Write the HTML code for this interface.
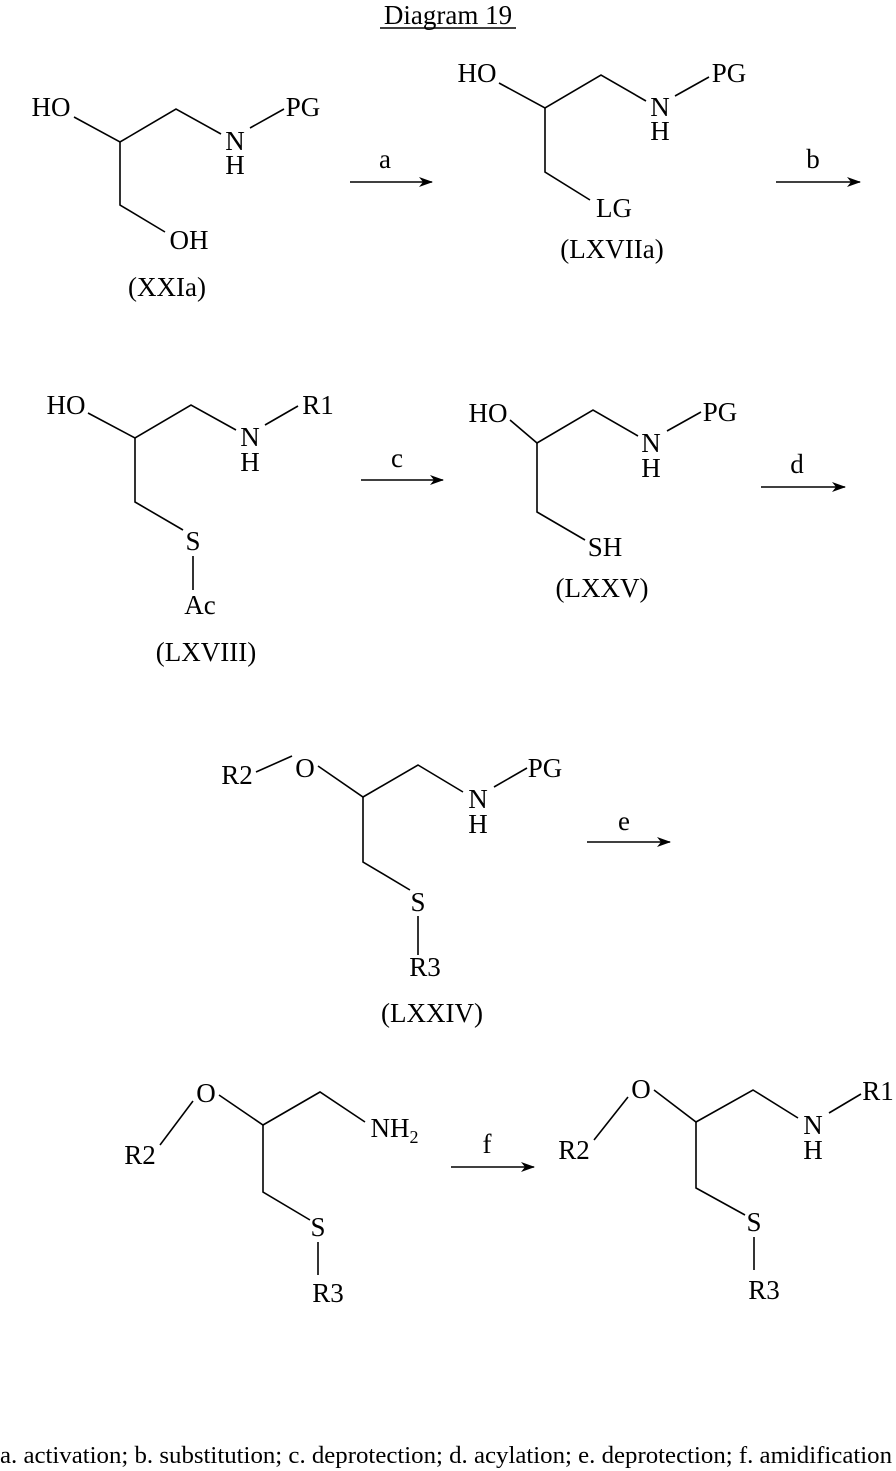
<!DOCTYPE html>
<html><head><meta charset="utf-8"><style>
html,body{margin:0;padding:0;background:#fff}
svg{display:block}
text{font-family:"Liberation Serif",serif;font-size:27px;fill:#000;text-anchor:middle}
line,polyline{stroke:#000;stroke-width:1.6;fill:none}
</style></head><body>
<svg width="896" height="1471" viewBox="0 0 896 1471">
<defs><marker id="ah" markerWidth="14" markerHeight="10" refX="13" refY="5" orient="auto" markerUnits="userSpaceOnUse"><path d="M0,0 L14,5 L0,10 L4,5 Z" fill="#000"/></marker></defs>
<text x="448" y="24">Diagram 19</text>
<line x1="380" y1="28" x2="516" y2="28"/>

<!-- XXIa -->
<text x="51" y="116">HO</text>
<polyline points="74,117 120,142 176,109 221,134"/>
<text x="235" y="150">N</text><text x="235" y="174">H</text>
<line x1="250" y1="128" x2="284" y2="109"/>
<text x="303" y="116">PG</text>
<polyline points="120,142 120,205 165,232"/>
<text x="189" y="249">OH</text>
<text x="167" y="296">(XXIa)</text>

<line x1="350" y1="182" x2="432" y2="182" marker-end="url(#ah)"/>
<text x="385" y="168">a</text>

<!-- LXVIIa -->
<text x="477" y="82">HO</text>
<polyline points="499,83 545,108 601,75 646,101"/>
<text x="660" y="116">N</text><text x="660" y="140">H</text>
<line x1="675" y1="96" x2="709" y2="77"/>
<text x="729" y="82">PG</text>
<polyline points="545,108 545,172 590,200"/>
<text x="614" y="217">LG</text>
<text x="612" y="258">(LXVIIa)</text>

<line x1="776" y1="182" x2="860" y2="182" marker-end="url(#ah)"/>
<text x="813" y="168">b</text>

<!-- LXVIII -->
<text x="66" y="414">HO</text>
<polyline points="88,413 135,438 191,405 236,430"/>
<text x="250" y="446">N</text><text x="250" y="471">H</text>
<line x1="265" y1="425" x2="298" y2="406"/>
<text x="318" y="414">R1</text>
<polyline points="135,438 135,502 183,530"/>
<text x="193" y="550">S</text>
<line x1="193" y1="556" x2="193" y2="590"/>
<text x="200" y="614">Ac</text>
<text x="206" y="661">(LXVIII)</text>

<line x1="361" y1="480" x2="443" y2="480" marker-end="url(#ah)"/>
<text x="397" y="467">c</text>

<!-- LXXV -->
<text x="488" y="422">HO</text>
<polyline points="510,420 537,443 593,410 638,436"/>
<text x="651" y="452">N</text><text x="651" y="477">H</text>
<line x1="667" y1="431" x2="701" y2="412"/>
<text x="720" y="421">PG</text>
<polyline points="537,443 537,512 585,540"/>
<text x="605" y="556">SH</text>
<text x="602" y="597">(LXXV)</text>

<line x1="761" y1="487" x2="845" y2="487" marker-end="url(#ah)"/>
<text x="797" y="473">d</text>

<!-- LXXIV -->
<text x="237" y="784">R2</text>
<line x1="256" y1="772" x2="292" y2="756"/>
<text x="305" y="777">O</text>
<polyline points="318,766 363,797 418,765 463,792"/>
<text x="478" y="808">N</text><text x="478" y="833">H</text>
<line x1="494" y1="787" x2="527" y2="768"/>
<text x="545" y="777">PG</text>
<polyline points="363,797 363,862 410,890"/>
<text x="418" y="911">S</text>
<line x1="418" y1="916" x2="418" y2="955"/>
<text x="425" y="976">R3</text>
<text x="432" y="1022">(LXXIV)</text>

<line x1="587" y1="842" x2="670" y2="842" marker-end="url(#ah)"/>
<text x="624" y="830">e</text>

<!-- amine -->
<text x="140" y="1164">R2</text>
<line x1="160" y1="1145" x2="193" y2="1101"/>
<text x="206" y="1102">O</text>
<polyline points="219,1095 263,1125 320,1092 365,1122"/>
<text x="390" y="1137">NH</text><text x="414" y="1143" style="font-size:18px">2</text>
<polyline points="263,1125 263,1192 310,1220"/>
<text x="318" y="1236">S</text>
<line x1="318" y1="1242" x2="318" y2="1275"/>
<text x="328" y="1302">R3</text>

<line x1="451" y1="1167" x2="534" y2="1167" marker-end="url(#ah)"/>
<text x="487" y="1153">f</text>

<!-- product -->
<text x="574" y="1159">R2</text>
<line x1="594" y1="1140" x2="628" y2="1097"/>
<text x="641" y="1098">O</text>
<polyline points="654,1090 696,1122 753,1090 798,1118"/>
<text x="813" y="1134">N</text><text x="813" y="1159">H</text>
<line x1="829" y1="1113" x2="861" y2="1094"/>
<text x="878" y="1100">R1</text>
<polyline points="696,1122 696,1188 745,1215"/>
<text x="754" y="1231">S</text>
<line x1="754" y1="1237" x2="754" y2="1270"/>
<text x="764" y="1299">R3</text>

<text x="0" y="1463" textLength="892" lengthAdjust="spacingAndGlyphs" style="font-size:24px;text-anchor:start">a. activation; b. substitution; c. deprotection; d. acylation; e. deprotection; f. amidification</text>
</svg>
</body></html>
